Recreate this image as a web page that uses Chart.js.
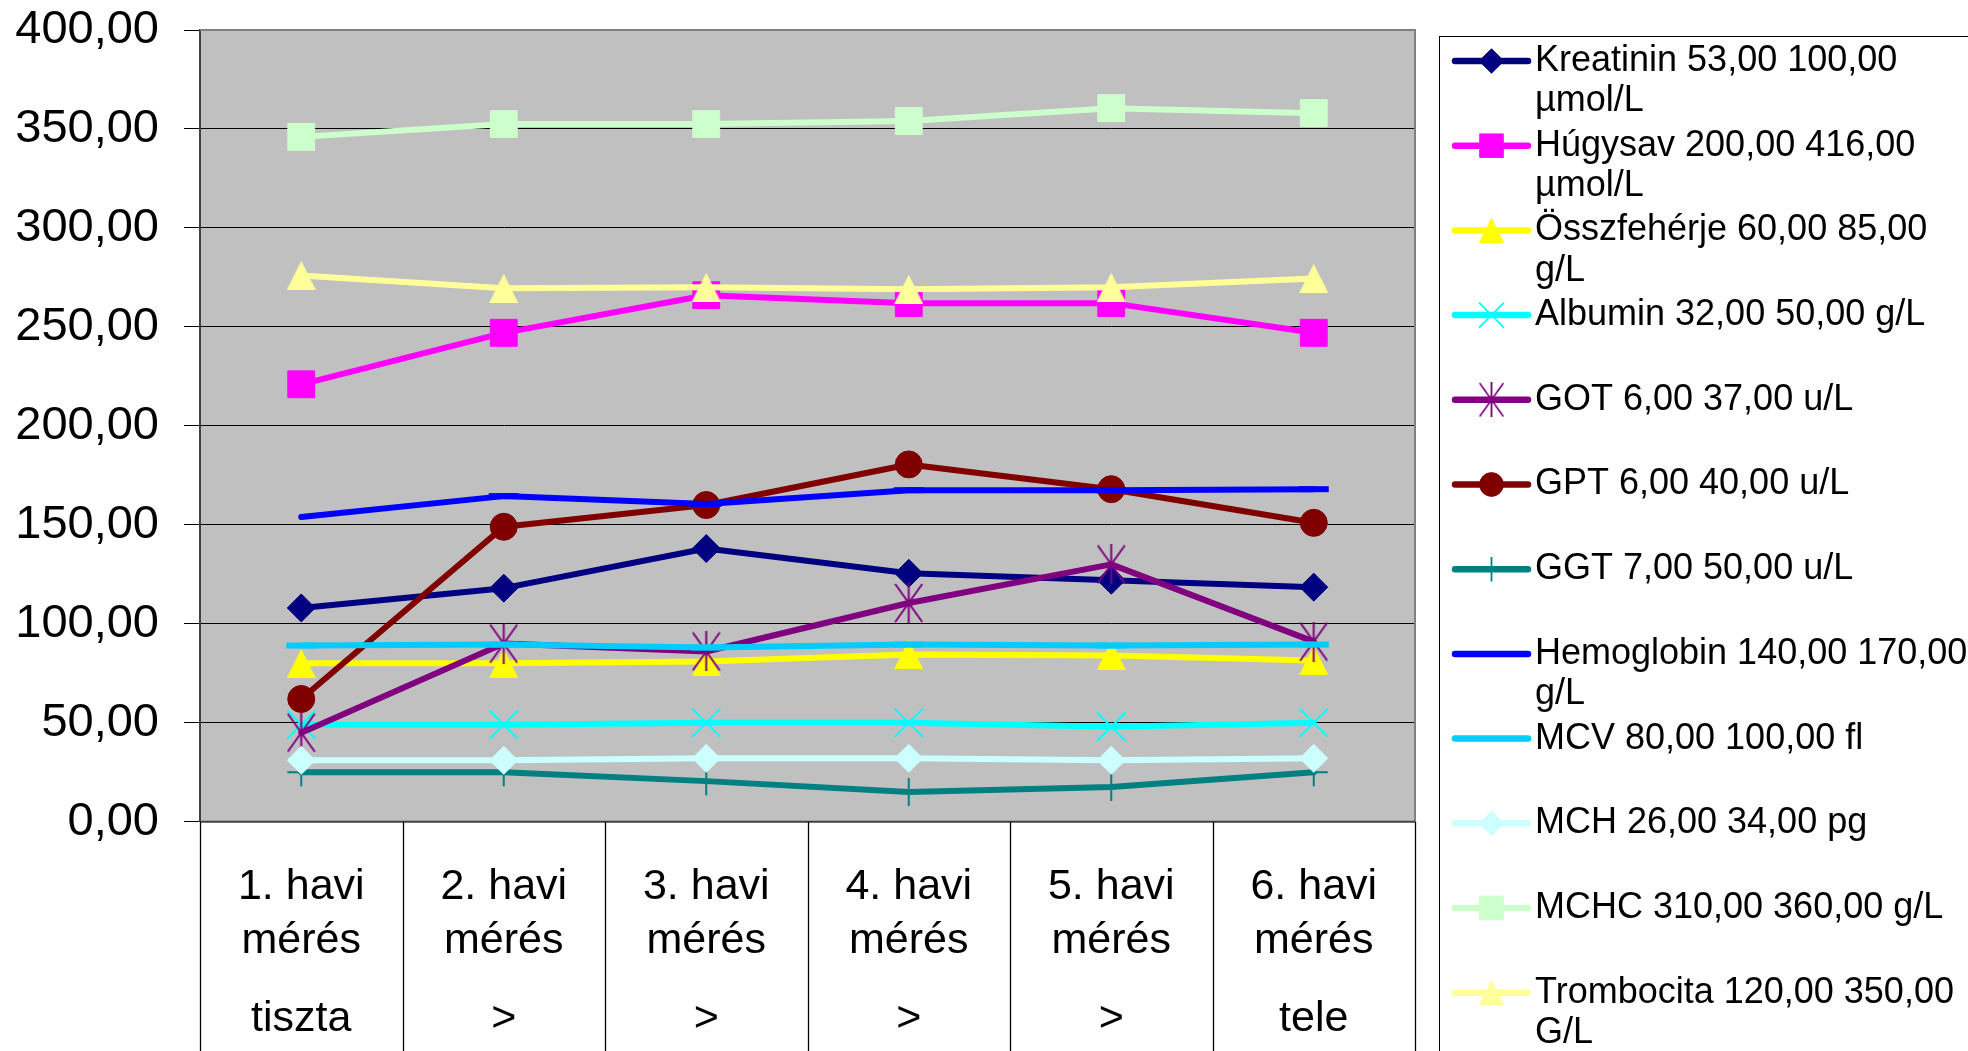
<!DOCTYPE html>
<html lang="hu">
<head>
<meta charset="utf-8">
<title>Laboreredmények havi mérései</title>
<script src="https://cdn.jsdelivr.net/npm/chart.js@4.4.1/dist/chart.umd.min.js"></script>
<style>
  html, body { margin: 0; padding: 0; background: #ffffff; }
  #wrap { width: 1968px; height: 1051px; }
  canvas { display: block; }
</style>
</head>
<body>
<div id="wrap"><canvas id="lab" width="1968" height="1051"></canvas></div>
<script>
// ---- Data --------------------------------------------------------------
const categories = [
  ['1. havi', 'mérés'], ['2. havi', 'mérés'], ['3. havi', 'mérés'],
  ['4. havi', 'mérés'], ['5. havi', 'mérés'], ['6. havi', 'mérés']
];
const categoryNotes = ['tiszta', '>', '>', '>', '>', 'tele'];
const yTickValues = [0, 50, 100, 150, 200, 250, 300, 350, 400];

const seriesLabels = [
  'Kreatinin 53,00 100,00 µmol/L',
  'Húgysav 200,00 416,00 µmol/L',
  'Összfehérje 60,00 85,00 g/L',
  'Albumin 32,00 50,00 g/L',
  'GOT 6,00 37,00 u/L',
  'GPT 6,00 40,00 u/L',
  'GGT 7,00 50,00 u/L',
  'Hemoglobin 140,00 170,00 g/L',
  'MCV 80,00 100,00 fl',
  'MCH 26,00 34,00 pg',
  'MCHC 310,00 360,00 g/L',
  'Trombocita 120,00 350,00 G/L'
];

const kreatinin   = [108, 118, 138, 125.5, 122, 118.5];
const hugysav     = [221, 247, 266, 262, 262, 247];
const osszfeherje = [80, 80, 81, 84.5, 84, 81.5];
const albumin     = [49, 49, 50, 50, 48, 50];
const got         = [45, 90, 86, 110.5, 130, 91];
const gpt         = [62, 149, 160, 180.5, 168, 151];
const ggt         = [25, 25, 20.5, 15, 17.5, 25];
const hemoglobin  = [154, 164.5, 160.5, 167.5, 167.5, 168];
const mcv         = [89, 89.5, 88, 89.5, 89, 89.5];
const mch         = [31, 31, 32, 32, 31, 32];
const mchc        = [346, 352.5, 352.5, 354, 360.5, 358];
const trombocita  = [276, 269.5, 270, 269, 270, 274.5];

// ---- Styling -----------------------------------------------------------
const FONT = "'Liberation Sans', Arial, Helvetica, sans-serif";

// Marker images for shapes Chart.js does not draw the same way
function triangleMarker(color, w, h) {
  const c = document.createElement('canvas');
  c.width = w; c.height = h;
  const g = c.getContext('2d');
  g.fillStyle = color;
  g.beginPath();
  g.moveTo(w / 2, 0); g.lineTo(w, h); g.lineTo(0, h); g.closePath();
  g.fill();
  return c;
}
function starMarker(color, w, h, lw) {
  const c = document.createElement('canvas');
  c.width = w; c.height = h;
  const g = c.getContext('2d');
  g.strokeStyle = color; g.lineWidth = lw;
  g.beginPath();
  g.moveTo(1, 1); g.lineTo(w - 1, h - 1);
  g.moveTo(w - 1, 1); g.lineTo(1, h - 1);
  g.moveTo(w / 2, 0); g.lineTo(w / 2, h);
  g.stroke();
  return c;
}

const seriesStyles = [
  { data: kreatinin,   color: '#000080', point: 'rectRot',  r: 14 },
  { data: hugysav,     color: '#FF00FF', point: 'rect',     r: 19 },
  { data: osszfeherje, color: '#FFFF00', point: triangleMarker('#FFFF00', 29, 29), r: 15 },
  { data: albumin,     color: '#00FFFF', point: 'crossRot', r: 20, pbw: 2 },
  { data: got,         color: '#800080', point: starMarker('#800080', 29, 40, 2), r: 15 },
  { data: gpt,         color: '#800000', point: 'circle',   r: 13.5 },
  { data: ggt,         color: '#008080', point: 'cross',    r: 14, pbw: 2 },
  { data: hemoglobin,  color: '#0000FF', point: 'line',     r: 15, pbw: 6, skipFirst: true },
  { data: mcv,         color: '#00CCFF', point: 'line',     r: 15, pbw: 6 },
  { data: mch,         color: '#CCFFFF', point: 'rectRot',  r: 14 },
  { data: mchc,        color: '#CCFFCC', point: 'rect',     r: 19 },
  { data: trombocita,  color: '#FFFF99', point: triangleMarker('#FFFF99', 29, 29), r: 15 }
];

const datasets = seriesStyles.map((s, i) => ({
  label: seriesLabels[i],
  data: s.data,
  borderColor: s.color,
  backgroundColor: s.color,
  borderWidth: 6,
  borderCapStyle: 'round',
  borderJoinStyle: 'round',
  tension: 0,
  pointStyle: s.point,
  pointRadius: s.skipFirst ? (c => (c.dataIndex === 0 ? 0 : s.r)) : s.r,
  pointHoverRadius: s.r,
  pointBackgroundColor: s.color,
  pointBorderColor: s.color,
  pointBorderWidth: s.pbw || 1,
  order: -i,
  clip: false
}));

// ---- Plugins -----------------------------------------------------------
const plotFrame = {
  id: 'plotFrame',
  beforeDraw(chart) {
    const { ctx, chartArea: a } = chart;
    ctx.save();
    ctx.fillStyle = '#C0C0C0';
    ctx.fillRect(a.left, a.top, a.right - a.left, a.bottom - a.top);
    ctx.restore();
  },
  beforeDatasetsDraw(chart) {
    const { ctx, chartArea: a } = chart;
    ctx.save();
    ctx.strokeStyle = '#808080';
    ctx.lineWidth = 2;
    ctx.beginPath();
    ctx.moveTo(a.left, a.top); ctx.lineTo(a.right, a.top); ctx.lineTo(a.right, a.bottom);
    ctx.stroke();
    ctx.strokeStyle = '#404040';
    ctx.beginPath();
    ctx.moveTo(a.left, a.bottom); ctx.lineTo(a.right, a.bottom);
    ctx.stroke();
    ctx.restore();
  }
};

// Category band under the plot: separators and three text rows
const categoryBand = {
  id: 'categoryBand',
  afterDraw(chart) {
    const { ctx, chartArea: a } = chart;
    const xs = chart.scales.x;
    const n = categories.length;
    const step = (a.right - a.left) / n;
    ctx.save();
    ctx.strokeStyle = '#000000';
    ctx.lineWidth = 1.3;
    for (let i = 0; i <= n; i++) {
      const x = Math.round(xs.getPixelForValue(Math.min(i, n - 1)) + (i === n ? step / 2 : -step / 2)) + 0.5;
      ctx.beginPath();
      ctx.moveTo(x, a.bottom);
      ctx.lineTo(x, chart.height);
      ctx.stroke();
    }
    ctx.fillStyle = '#000000';
    ctx.font = '43px ' + FONT;
    ctx.textAlign = 'center';
    ctx.textBaseline = 'alphabetic';
    for (let i = 0; i < n; i++) {
      const x = xs.getPixelForValue(i);
      ctx.fillText(categories[i][0], x, a.bottom + 77.5);
      ctx.fillText(categories[i][1], x, a.bottom + 131.5);
      ctx.fillText(categoryNotes[i], x, a.bottom + 209.5);
    }
    ctx.restore();
  }
};

function drawMarker(ctx, style, x, y, r, color, bw) {
  ctx.save();
  ctx.translate(x, y);
  ctx.fillStyle = color;
  ctx.strokeStyle = color;
  ctx.lineWidth = bw;
  if (typeof style === 'object') {
    ctx.drawImage(style, -style.width / 2, -style.height / 2);
    ctx.restore();
    return;
  }
  ctx.beginPath();
  switch (style) {
    case 'rect': {
      const s = r * Math.SQRT1_2;
      ctx.rect(-s, -s, 2 * s, 2 * s); ctx.fill(); ctx.stroke(); break;
    }
    case 'rectRot':
      ctx.moveTo(-r, 0); ctx.lineTo(0, -r); ctx.lineTo(r, 0); ctx.lineTo(0, r); ctx.closePath();
      ctx.fill(); ctx.stroke(); break;
    case 'circle':
      ctx.arc(0, 0, r, 0, Math.PI * 2); ctx.fill(); ctx.stroke(); break;
    case 'crossRot': {
      const d = r * Math.SQRT1_2;
      ctx.moveTo(-d, -d); ctx.lineTo(d, d); ctx.moveTo(d, -d); ctx.lineTo(-d, d); ctx.stroke(); break;
    }
    case 'cross':
      ctx.moveTo(0, -r); ctx.lineTo(0, r); ctx.moveTo(-r, 0); ctx.lineTo(r, 0); ctx.stroke(); break;
    default:
      break;
  }
  ctx.restore();
}

// Framed legend on the right, labels wrapped to the box width
const sideLegend = {
  id: 'sideLegend',
  afterDraw(chart) {
    const { ctx } = chart;
    const boxLeft = 1439.5, boxTop = 36.5;
    const lineX0 = 1455, lineX1 = 1528, markX = 1491.5, textX = 1535;
    const firstY = 61, entryStep = 84.7, rowStep = 40.5, wrapWidth = 442;
    ctx.save();
    ctx.strokeStyle = '#000000';
    ctx.lineWidth = 1;
    ctx.strokeRect(boxLeft, boxTop, chart.width + 10 - boxLeft, chart.height + 10 - boxTop);
    ctx.font = '36px ' + FONT;
    ctx.textAlign = 'left';
    ctx.textBaseline = 'middle';
    chart.data.datasets.forEach((ds, i) => {
      const y = firstY + entryStep * i;
      ctx.strokeStyle = ds.borderColor;
      ctx.lineWidth = 6.5;
      ctx.lineCap = 'round';
      ctx.beginPath();
      ctx.moveTo(lineX0, y); ctx.lineTo(lineX1, y);
      ctx.stroke();
      ctx.lineCap = 'butt';
      const s = seriesStyles[i];
      ctx.save();
      ctx.translate(markX, y);
      ctx.scale(0.88, 0.88);
      drawMarker(ctx, s.point, 0, 0, s.r, s.color, s.pbw || 1);
      ctx.restore();
      // word wrap
      const words = ds.label.split(' ');
      const lines = [];
      let cur = '';
      words.forEach(w => {
        const test = cur ? cur + ' ' + w : w;
        if (cur && ctx.measureText(test).width > wrapWidth) { lines.push(cur); cur = w; }
        else cur = test;
      });
      if (cur) lines.push(cur);
      ctx.fillStyle = '#000000';
      lines.forEach((ln, k) => ctx.fillText(ln, textX, y + k * rowStep));
    });
    ctx.restore();
  }
};

// ---- Chart -------------------------------------------------------------
new Chart(document.getElementById('lab'), {
  type: 'line',
  data: { labels: categories.map(c => c.join(' ')), datasets },
  options: {
    responsive: false,
    animation: false,
    devicePixelRatio: 1,
    layout: { padding: { top: 30, right: 553, bottom: 0, left: 0 } },
    plugins: { legend: { display: false }, tooltip: { enabled: false } },
    scales: {
      x: {
        type: 'category',
        offset: true,
        grid: { display: false },
        border: { display: false },
        ticks: { display: false },
        afterFit(s) { s.height = 229.3; }
      },
      y: {
        min: 0,
        max: 400,
        afterBuildTicks(s) { s.ticks = yTickValues.map(v => ({ value: v })); },
        grid: { color: '#000000', lineWidth: 1, tickLength: 16, tickColor: '#000000', drawTicks: true },
        border: { display: true, color: '#404040', width: 2 },
        ticks: {
          padding: 25,
          color: '#000000',
          font: { family: FONT, size: 47 },
          callback: v => Number(v).toFixed(2).replace('.', ',')
        },
        afterFit(s) { s.width = 200; s.paddingTop = 0; s.paddingBottom = 0; }
      }
    }
  },
  plugins: [plotFrame, categoryBand, sideLegend]
});
</script>
</body>
</html>
